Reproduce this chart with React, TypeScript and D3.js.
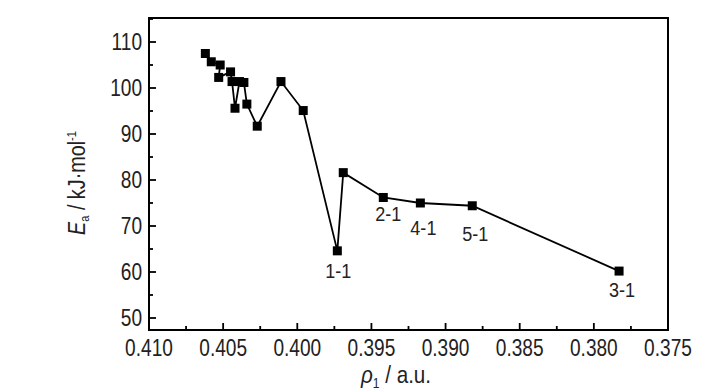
import React, { useEffect, useRef } from "react";
import * as d3 from "d3";

// rho_1 (a.u.) and activation energy Ea (kJ/mol), in the order the line runs
const rho = [
  0.4062, 0.4058, 0.4052, 0.4053, 0.4045, 0.4044, 0.4042, 0.4039, 0.4036, 0.4034,
  0.4027, 0.4011, 0.3996, 0.3973, 0.3969, 0.3942, 0.3917, 0.3882, 0.3783,
];
const ea = [
  107.5, 105.7, 105.0, 102.3, 103.5, 101.4, 95.6, 101.4, 101.2, 96.5,
  91.7, 101.4, 95.1, 64.6, 81.6, 76.2, 75.0, 74.4, 60.2,
];
const labelNames = ["1-1", "2-1", "4-1", "5-1", "3-1"];
const labelIndex = [13, 15, 16, 17, 18];

const xTicks = [0.41, 0.405, 0.4, 0.395, 0.39, 0.385, 0.38, 0.375];
const yTicks = [50, 60, 70, 80, 90, 100, 110];

const W = 728;
const H = 390;
const box = { left: 149, right: 668, top: 18, bottom: 330 };
const FONT = "'Liberation Sans', Arial, Helvetica, sans-serif";
const SQUEEZE = 0.83;

// label nudges (px) relative to their point: dx, baseline dy
const labelNudge = [
  [1, 27],
  [5, 24],
  [3, 32],
  [3, 35],
  [3, 26],
];

function App() {
  const ref = useRef<SVGSVGElement>(null);

  useEffect(() => {
    const svg = d3.select(ref.current);
    svg.selectAll("*").remove();

    const x = d3.scaleLinear().domain([0.41, 0.375]).range([box.left, box.right]);
    const y = d3.scaleLinear().domain([110, 50]).range([42, 318]);

    const g = svg.append("g");

    // helper for horizontally condensed text
    const squeezed = (px: number, py: number, txt: string, size: number, anchor: string, sx = SQUEEZE) =>
      g
        .append("g")
        .attr("transform", `translate(${px},${py}) scale(${sx},1)`)
        .append("text")
        .attr("font-family", FONT)
        .attr("font-size", size)
        .attr("fill", "#222")
        .attr("text-anchor", anchor)
        .text(txt);

    // x ticks (inward)
    const xMinor = xTicks.slice(0, -1).map((t) => t - 0.0025);
    g.selectAll(".xmaj")
      .data(xTicks)
      .join("line")
      .attr("x1", (d) => x(d))
      .attr("x2", (d) => x(d))
      .attr("y1", box.bottom)
      .attr("y2", box.bottom - 7)
      .attr("stroke", "#000")
      .attr("stroke-width", 1.8);
    g.selectAll(".xmin")
      .data(xMinor)
      .join("line")
      .attr("x1", (d) => x(d))
      .attr("x2", (d) => x(d))
      .attr("y1", box.bottom)
      .attr("y2", box.bottom - 4)
      .attr("stroke", "#000")
      .attr("stroke-width", 1.8);

    // y ticks (inward)
    const yMinor = yTicks.map((t) => t + 5);
    g.selectAll(".ymaj")
      .data(yTicks)
      .join("line")
      .attr("x1", box.left)
      .attr("x2", box.left + 7)
      .attr("y1", (d) => y(d))
      .attr("y2", (d) => y(d))
      .attr("stroke", "#000")
      .attr("stroke-width", 1.8);
    g.selectAll(".ymin")
      .data(yMinor)
      .join("line")
      .attr("x1", box.left)
      .attr("x2", box.left + 4)
      .attr("y1", (d) => y(d))
      .attr("y2", (d) => y(d))
      .attr("stroke", "#000")
      .attr("stroke-width", 1.8);

    // frame
    g.append("rect")
      .attr("x", box.left)
      .attr("y", box.top)
      .attr("width", box.right - box.left)
      .attr("height", box.bottom - box.top)
      .attr("fill", "none")
      .attr("stroke", "#000")
      .attr("stroke-width", 2);

    // tick labels
    const fmt = d3.format(".3f");
    xTicks.forEach((t) => squeezed(x(t), 356, fmt(t), 23, "middle"));
    yTicks.forEach((t) => squeezed(142, y(t) + 8.3, String(t), 23, "end"));

    // line + squares
    const pts = rho.map((r, i) => [r, ea[i]] as [number, number]);
    const line = d3
      .line<[number, number]>()
      .x((d) => x(d[0]))
      .y((d) => y(d[1]));
    g.append("path")
      .attr("d", line(pts))
      .attr("fill", "none")
      .attr("stroke", "#000")
      .attr("stroke-width", 1.8);
    const s = 9;
    g.selectAll(".pt")
      .data(pts)
      .join("rect")
      .attr("x", (d) => x(d[0]) - s / 2)
      .attr("y", (d) => y(d[1]) - s / 2)
      .attr("width", s)
      .attr("height", s)
      .attr("fill", "#000");

    // sample labels
    labelNames.forEach((name, k) => {
      const i = labelIndex[k];
      const [dx, dy] = labelNudge[k];
      squeezed(x(rho[i]) + dx, y(ea[i]) + dy, name, 21, "middle", 0.86);
    });

    // x title
    const xt = g
      .append("g")
      .attr("transform", `translate(396,383) scale(0.86,1)`)
      .append("text")
      .attr("font-family", FONT)
      .attr("font-size", 24)
      .attr("fill", "#222")
      .attr("text-anchor", "middle");
    xt.append("tspan").attr("font-style", "italic").text("ρ");
    xt.append("tspan").attr("font-size", 14).attr("dy", 5).text("1");
    xt.append("tspan").attr("dy", -5).text(" / a.u.");

    // y title
    const yt = g
      .append("g")
      .attr("transform", `translate(85,183) rotate(-90) scale(0.86,1)`)
      .append("text")
      .attr("font-family", FONT)
      .attr("font-size", 23)
      .attr("fill", "#222")
      .attr("text-anchor", "middle");
    yt.append("tspan").attr("font-style", "italic").text("E");
    yt.append("tspan").attr("font-size", 13).attr("dy", 4).text("a");
    yt.append("tspan").attr("dy", -4).text(" / kJ·mol");
    yt.append("tspan").attr("font-size", 13).attr("dy", -9).text("-1");
  }, []);

  return (
    <svg
      ref={ref}
      width={W}
      height={H}
      style={{ position: "absolute", left: 0, top: 0, background: "#fff" }}
    />
  );
}

export default App;
